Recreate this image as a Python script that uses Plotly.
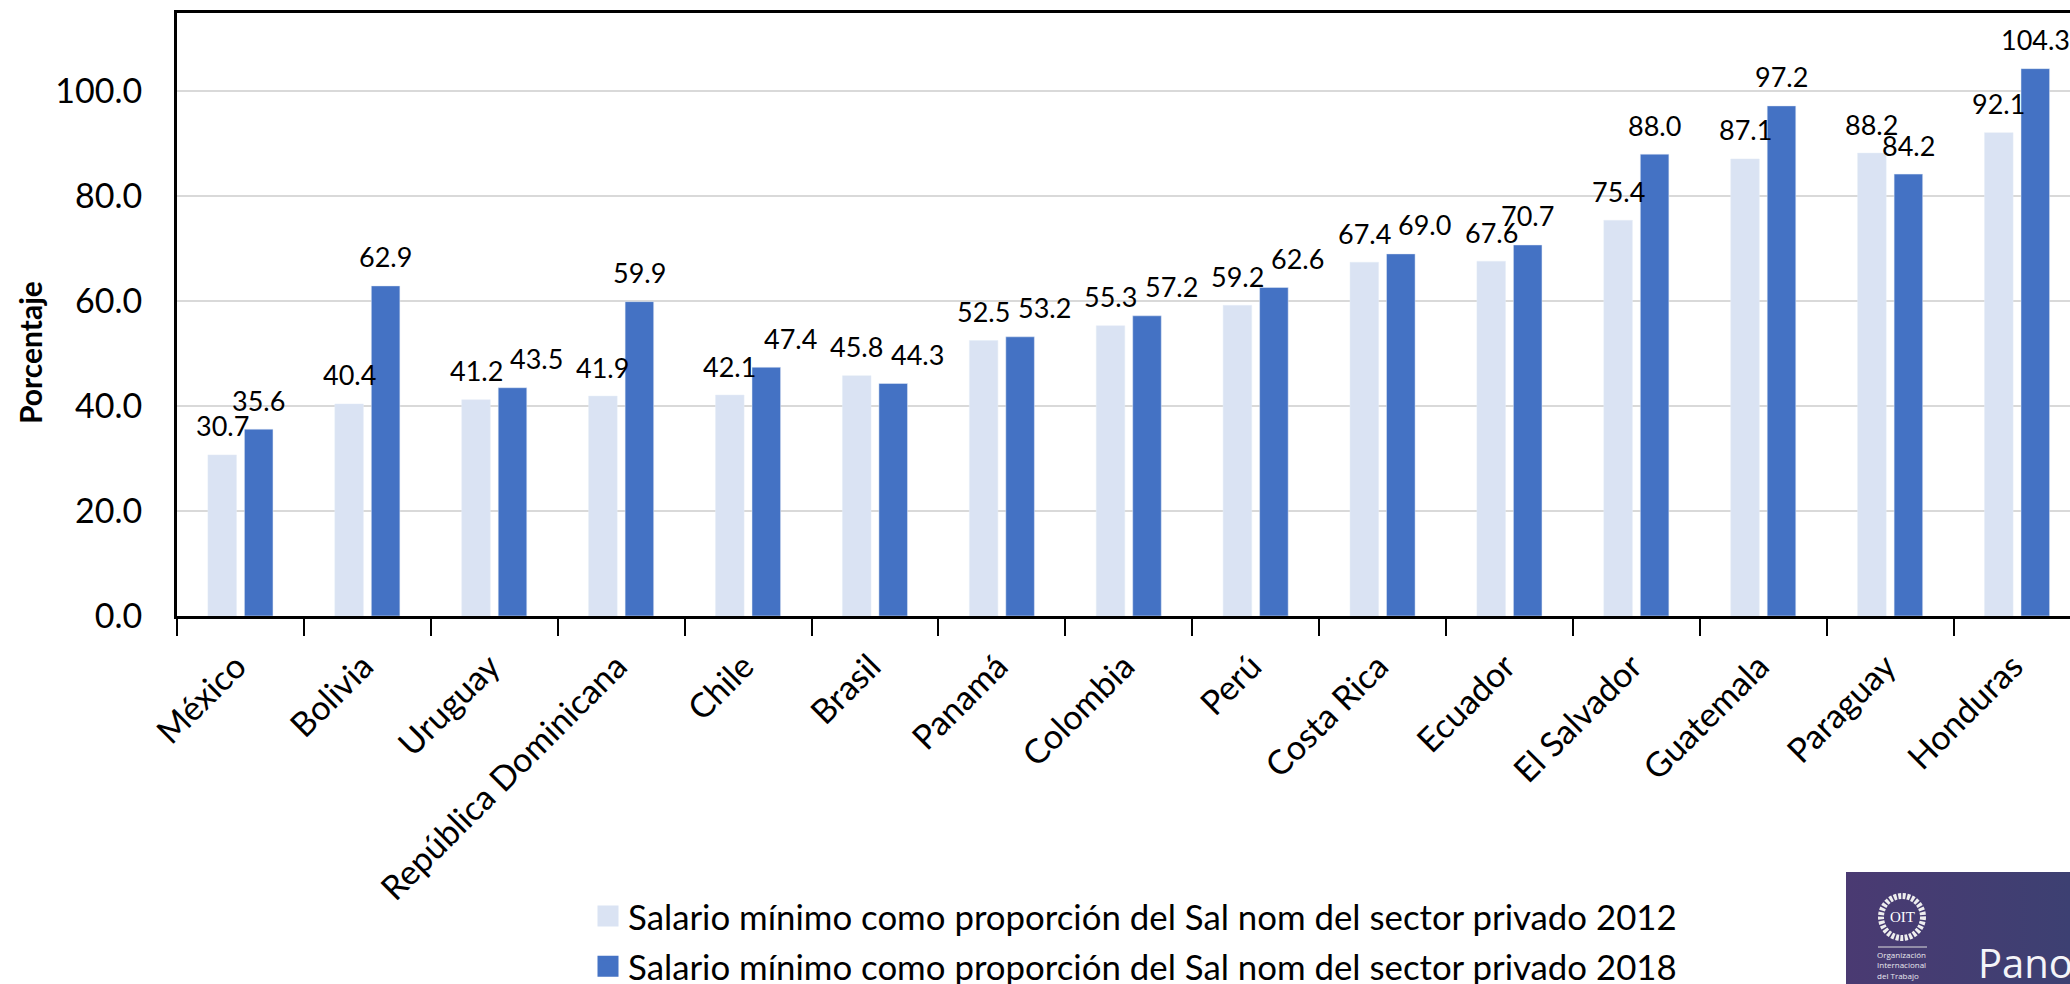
import base64
import plotly.graph_objects as go

countries = ["México", "Bolivia", "Uruguay", "República Dominicana", "Chile", "Brasil", "Panamá",
             "Colombia", "Perú", "Costa Rica", "Ecuador", "El Salvador", "Guatemala", "Paraguay", "Honduras"]
values_2012 = [30.7, 40.4, 41.2, 41.9, 42.1, 45.8, 52.5, 55.3, 59.2, 67.4, 67.6, 75.4, 87.1, 88.2, 92.1]
values_2018 = [35.6, 62.9, 43.5, 59.9, 47.4, 44.3, 53.2, 57.2, 62.6, 69.0, 70.7, 88.0, 97.2, 84.2, 104.3]
name_2012 = "Salario mínimo como proporción del Sal nom del sector privado 2012"
name_2018 = "Salario mínimo como proporción del Sal nom del sector privado 2018"
y_ticks = [0, 20, 40, 60, 80, 100]
moved_labels_2018 = {"Uruguay", "Chile", "Brasil", "Panamá", "Colombia", "Perú", "Costa Rica"}

LIGHT, BLUE = "#DAE3F3", "#4472C4"
FONT = "Lato"
W, H = 2070, 984
L, T, B = 177, 13, 368
PW, PH = W - L, H - T - B

def px_x(px):
    return (px - L) / PW

def px_y(py):
    return (H - B - py) / PH

fig = go.Figure()
fig.add_bar(x=countries, y=values_2012, marker_color=LIGHT, showlegend=False, name=name_2012)
fig.add_bar(x=countries, y=values_2018, marker_color=BLUE, showlegend=False, name=name_2018)

# legend keys: larger squares than the fixed bar swatch
for nm, col, grp in [(name_2012, LIGHT, "a"), (name_2018, BLUE, "b")]:
    fig.add_scatter(x=[None], y=[None], mode="markers", name=nm, legendgroup=grp,
                    marker=dict(symbol="square", size=16, color=col, line=dict(color=col, width=5)))

annotations = []
for vals, dx in [(values_2012, -18.25), (values_2018, 18.25)]:
    for c, v in zip(countries, vals):
        extra = 24 if (dx > 0 and c in moved_labels_2018) else 0
        annotations.append(dict(x=c, y=v, text=f"{v:.1f}", showarrow=False, xshift=dx + extra, yshift=29,
                                yanchor="middle", font=dict(family=FONT, size=27, color="#000")))
annotations.append(dict(xref="paper", yref="paper", x=px_x(30), y=px_y(353), xanchor="center", yanchor="middle",
                        text="<b>Porcentaje</b>", textangle=-90,
                        showarrow=False, font=dict(family=FONT, size=30, color="#000")))

# publisher badge, bottom right
svg = """<svg xmlns='http://www.w3.org/2000/svg' width='224' height='112'>
<defs><linearGradient id='g' x1='0' x2='1' y1='0' y2='0'><stop offset='0' stop-color='#4a3a72'/><stop offset='1' stop-color='#3d4072'/></linearGradient></defs>
<rect width='224' height='112' fill='url(#g)'/>
<circle cx='56' cy='45' r='21' fill='none' stroke='#eee' stroke-width='6' stroke-dasharray='3 1.5'/>
<line x1='32' y1='75' x2='81' y2='75' stroke='#ddd' stroke-width='1'/></svg>"""
uri = "data:image/svg+xml;base64," + base64.b64encode(svg.encode()).decode()
images = [dict(source=uri, xref="paper", yref="paper", xanchor="left", yanchor="bottom", sizing="stretch", layer="above",
               x=px_x(1846), y=px_y(984), sizex=224 / PW, sizey=112 / PH)]

def badge(px, py, text, size, color="#e8e8ee", anchor="left", family="Open Sans"):
    annotations.append(dict(xref="paper", yref="paper", x=px_x(px), y=px_y(py),
                            text=text, showarrow=False, xanchor=anchor, yanchor="middle", align="left",
                            font=dict(family=family, size=size, color=color)))
badge(1902, 917, "OIT", 15, "#fff", "center", "Liberation Serif")
badge(1875, 965, "Organización<br>Internacional<br>del Trabajo", 8)
badge(1976, 962, "Pano", 40, "#f4f4f8")

fig.update_layout(
    width=W, height=H, autosize=False,
    margin=dict(l=L, r=0, t=T, b=B, pad=0, autoexpand=False),
    paper_bgcolor="white", plot_bgcolor="white",
    barmode="group", bargap=0.425, bargroupgap=0.217,
    font=dict(family=FONT, color="#000"),
    annotations=annotations, images=images,
    legend=dict(orientation="v", xref="paper", yref="paper", xanchor="left", yanchor="top",
                x=px_x(588), y=px_y(887),
                font=dict(family=FONT, size=34.8, color="#000"), bgcolor="rgba(0,0,0,0)",
                tracegroupgap=2, itemwidth=30),
    xaxis=dict(type="category", range=[-0.5, PW / 126.9 - 0.5], tickson="boundaries",
               ticks="outside", ticklen=17, tickwidth=2, tickcolor="#000", tickangle=-45,
               tickfont=dict(family=FONT, size=34, color="#000"), ticklabelstandoff=14, ticklabelshift=-4,
               showline=True, linecolor="#000", linewidth=3, mirror=True, showgrid=False, zeroline=False),
    yaxis=dict(range=[0, 114.9], tickvals=y_ticks, ticktext=[f"{v:.1f}" for v in y_ticks], ticks="",
               tickfont=dict(family=FONT, size=34, color="#000"), ticklabelstandoff=25,
               showline=True, linecolor="#000", linewidth=3, showgrid=True, gridcolor="#D9D9D9", gridwidth=2,
               zeroline=False),
)
fig.write_html("out.html", default_width="2070px", default_height="984px",
               config={"displayModeBar": False},
               post_script="document.body.style.margin='0';")
